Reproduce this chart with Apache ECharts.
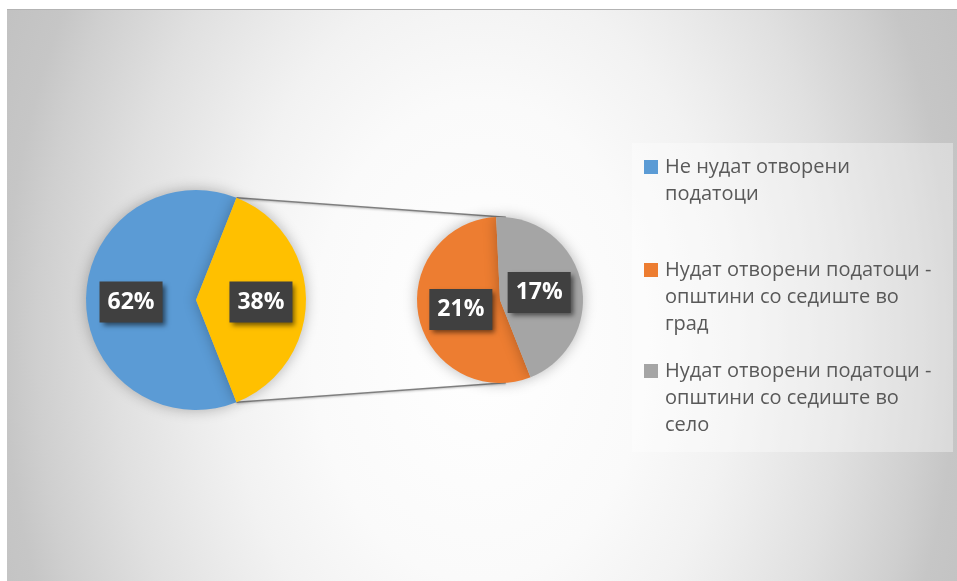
<!DOCTYPE html>
<html>
<head>
<meta charset="utf-8">
<script src="https://cdn.jsdelivr.net/npm/echarts@6/dist/echarts.min.js"></script>
<style>
  html, body { margin: 0; padding: 0; background: #ffffff; width: 957px; height: 581px; overflow: hidden; }
  #backdrop {
    position: absolute; left: 7px; top: 9px; width: 960px; height: 600px;
    border-top: 1px solid #b3b3b3;
    background: radial-gradient(560px 800px at 473px 331px,
      #ffffff 0%, #fafafa 30%, #f2f2f2 45%, #ececec 52%, #e0e0e0 65%,
      #cfcfcf 79%, #c6c6c6 85%, #bfbfbf 100%);
  }
  #chart { position: absolute; left: 0; top: 0; width: 957px; height: 581px; }
</style>
</head>
<body>
<div id="backdrop"></div>
<div id="chart"></div>
<script>
// Main pie: municipalities that do not / do publish open data (percent)
const mainNames = ['Не нудат отворени податоци', 'Нудат отворени податоци'];
const mainValues = [62, 38];
// Secondary pie: split of the publishing municipalities (percent of all)
const subNames = [
  'Нудат отворени податоци - општини со седиште во град',
  'Нудат отворени податоци - општини со седиште во село'
];
const subValues = [21, 17];
// Legend entries and their wrapped lines
const legendNames = [mainNames[0], subNames[0], subNames[1]];
const legendLabels = [
  'Не нудат отворени\nподатоци',
  'Нудат отворени податоци -\nопштини со седиште во\nград',
  'Нудат отворени податоци -\nопштини со седиште во\nсело'
];

const colors = { blue: '#5b9bd5', yellow: '#ffc000', orange: '#ed7d31', gray: '#a5a5a5' };

const FONT = 'Open Sans';
const mainCenter = [196, 300], mainR = 110;
const subCenter = [500, 300], subR = 83;

// the "other" slice is centred on 3 o'clock
const mainTotal = mainValues[0] + mainValues[1];
const otherHalf = 180 * mainValues[1] / mainTotal;
const startAngle = 360 - otherHalf;

const labelStyle = {
  show: true,
  position: 'inside',
  formatter: p => p.value + '%',
  color: '#ffffff',
  fontFamily: FONT,
  fontWeight: 'bold',
  fontSize: 23,
  lineHeight: 25,
  backgroundColor: '#404040',
  padding: [8, 8, 8, 8],
  shadowColor: 'rgba(0,0,0,0.55)',
  shadowBlur: 5,
  shadowOffsetX: 3,
  shadowOffsetY: 3
};

const sliceShadow = { shadowBlur: 14, shadowColor: 'rgba(0,0,0,0.28)', borderWidth: 0 };

// scale a label's distance from its pie centre
function radialNudge(center, k, extraY) {
  return function (p) {
    const r = p.labelRect;
    const cx = r.x + r.width / 2, cy = r.y + r.height / 2;
    return { dx: (cx - center[0]) * k, dy: (cy - center[1]) * k + extraY };
  };
}

// connector lines from the edges of the "other" slice to the secondary pie
const rad = Math.PI / 180;
const subJoin = 86;
function pt(c, r, deg) { return [c[0] + r * Math.cos(deg * rad), c[1] - r * Math.sin(deg * rad)]; }
const lineStyle = { stroke: '#7f7f7f', lineWidth: 1.5, shadowBlur: 2, shadowColor: 'rgba(0,0,0,0.25)', shadowOffsetY: 1 };
const connectors = [
  [pt(mainCenter, mainR, otherHalf), pt(subCenter, subR, subJoin)],
  [pt(mainCenter, mainR, -otherHalf), pt(subCenter, subR, -subJoin)]
].map(([a, b]) => ({
  type: 'line', z: 1, silent: true,
  shape: { x1: a[0], y1: a[1], x2: b[0], y2: b[1] },
  style: lineStyle
}));

// each legend entry keeps its marker beside the first text line:
// blank lines above balance the lines below around the marker
const LH = 27;
function legendItem(i, markerY) {
  const n = legendLabels[i].split('\n').length;
  return {
    data: [legendNames[i]],
    left: 644,
    top: markerY - (2 * n - 1) * LH / 2,
    padding: 0,
    orient: 'vertical',
    icon: 'rect',
    itemWidth: 14,
    itemHeight: 14,
    formatter: () => '\n'.repeat(n - 1) + legendLabels[i],
    textStyle: {
      color: '#595959', fontFamily: FONT, fontSize: 20, lineHeight: LH,
      padding: [0, 0, 0, 2]
    },
    selectedMode: false
  };
}

const chart = echarts.init(document.getElementById('chart'), null, { renderer: 'canvas' });
chart.setOption({
  animation: false,
  backgroundColor: 'transparent',
  color: [colors.blue, colors.yellow, colors.orange, colors.gray],
  legend: [
    legendItem(0, 167),
    legendItem(1, 270),
    legendItem(2, 371)
  ],
  graphic: [
    {
      type: 'rect', z: 0, silent: true,
      shape: { x: 632, y: 143, width: 321, height: 309 },
      style: { fill: 'rgba(255,255,255,0.35)' }
    },
    ...connectors
  ],
  series: [
    {
      type: 'pie',
      center: mainCenter,
      radius: mainR,
      startAngle: startAngle,
      clockwise: true,
      label: labelStyle,
      labelLine: { show: false },
      itemStyle: sliceShadow,
      emphasis: { disabled: true },
      labelLayout: radialNudge(mainCenter, 0.12, 2),
      data: mainNames.map((n, i) => ({
        name: n, value: mainValues[i],
        itemStyle: { color: i === 0 ? colors.blue : colors.yellow }
      }))
    },
    {
      type: 'pie',
      center: subCenter,
      radius: subR,
      startAngle: startAngle,
      clockwise: true,
      label: labelStyle,
      labelLine: { show: false },
      itemStyle: sliceShadow,
      emphasis: { disabled: true },
      labelLayout: radialNudge(subCenter, -0.1, 1),
      data: subNames.map((n, i) => ({
        name: n, value: subValues[i],
        itemStyle: { color: i === 0 ? colors.orange : colors.gray }
      }))
    }
  ]
});
</script>
</body>
</html>
